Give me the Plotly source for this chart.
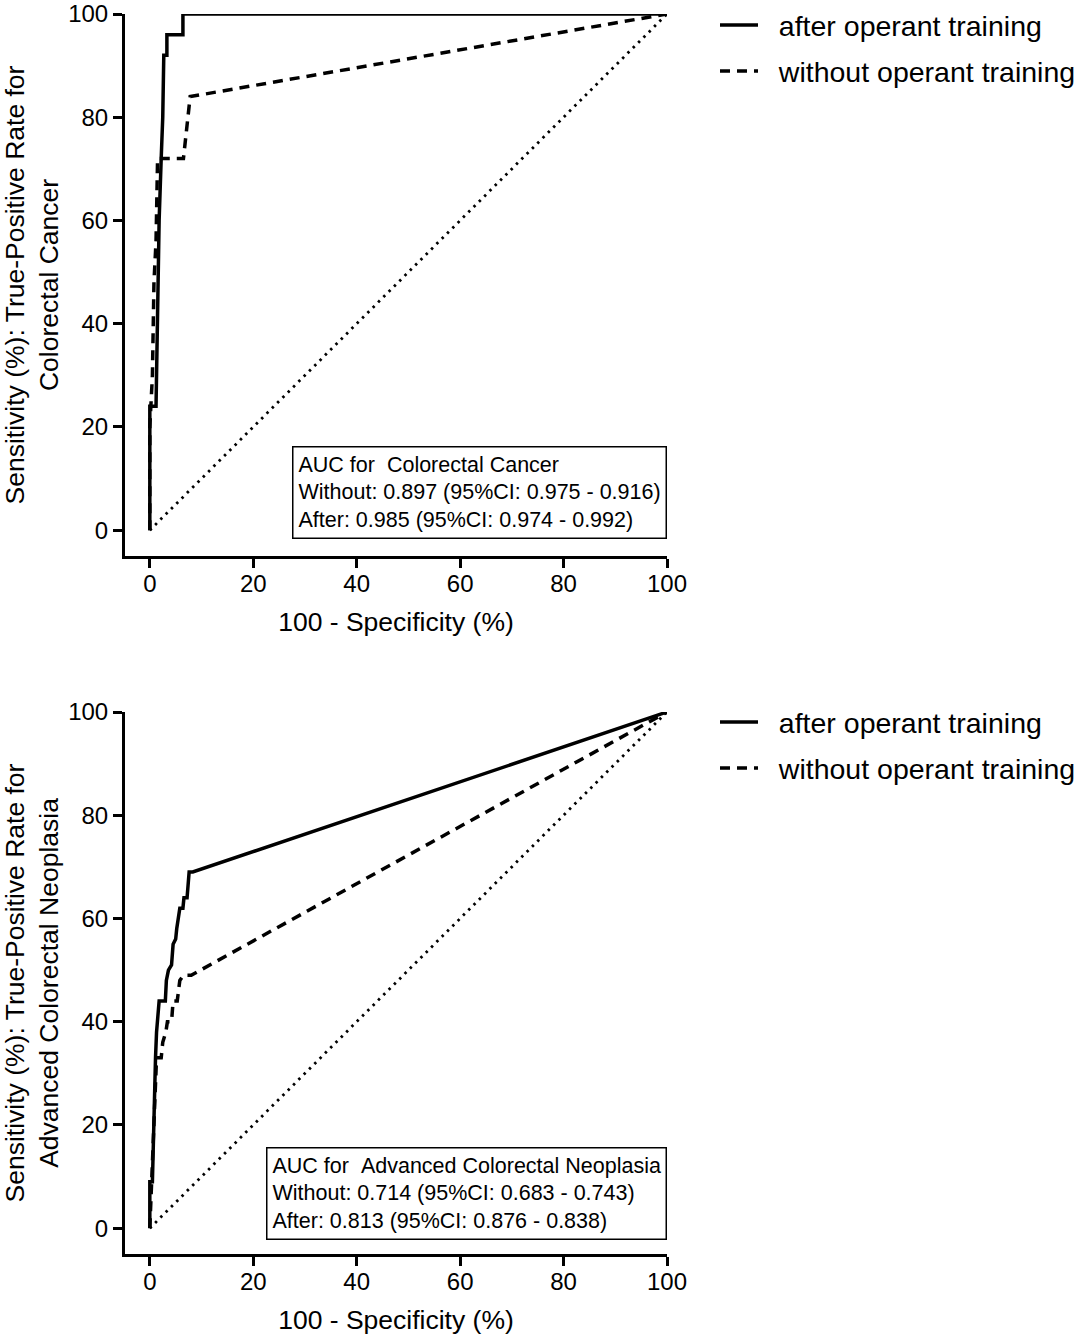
import plotly.graph_objects as go

W, H = 1083, 1339

def px_x(px):
    return px / W

def px_y(py):
    return 1 - py / H

# ---------------- data ----------------
tick_vals = [0, 20, 40, 60, 80, 100]
tick_text = ["0", "20", "40", "60", "80", "100"]

series_names = ["after operant training", "without operant training"]

# Top panel: Colorectal Cancer
crc_after_x = [0, 0, 1.2, 1.4, 1.8, 2.2, 2.5, 2.7, 3.3, 3.3, 6.4, 6.4, 100]
crc_after_y = [0, 24, 24, 40, 60, 72, 80, 92, 92, 96, 96, 100, 100]
crc_without_x = [0, 0, 0.5, 0.8, 1.2, 1.4, 1.5, 6.5, 7.3, 7.8, 100]
crc_without_y = [0, 20, 30, 48, 56, 64, 72, 72, 80, 84, 100]

# Bottom panel: Advanced Colorectal Neoplasia
acn_after_x = [0, 0, 0.5, 0.6, 0.9, 1.1, 1.3, 1.8, 3.0, 3.2, 3.6, 4.2, 4.5, 5.0, 5.2, 5.8, 6.4, 6.6, 7.2, 7.6, 8.3, 100]
acn_after_y = [0, 9, 9, 15, 25, 33, 38, 44, 44, 48, 50, 51, 55, 56, 58, 62, 62, 64, 64, 69, 69, 100]
acn_without_x = [0, 0.4, 0.8, 1.0, 1.3, 2.2, 2.5, 3.1, 3.4, 4.2, 4.5, 5.3, 5.8, 6.5, 8.0, 100]
acn_without_y = [0, 10, 20, 28, 33, 33, 36, 38, 40, 40, 44, 44, 48, 49, 49, 100]

ref_x = [0, 100]
ref_y = [0, 100]

top_box = ["AUC for\u00a0\u00a0Colorectal Cancer",
           "Without: 0.897 (95%CI: 0.975 - 0.916)",
           "After: 0.985 (95%CI: 0.974 - 0.992)"]
bot_box = ["AUC for\u00a0\u00a0Advanced Colorectal Neoplasia",
           "Without: 0.714 (95%CI: 0.683 - 0.743)",
           "After: 0.813 (95%CI: 0.876 - 0.838)"]

x_title = "100 - Specificity (%)"
top_y_title = "Sensitivity (%): True-Positive Rate for<br>Colorectal Cancer"
bot_y_title = "Sensitivity (%): True-Positive Rate for<br>Advanced Colorectal Neoplasia"

# ---------------- figure ----------------
FONT = "Liberation Sans, Arial, sans-serif"
fig = go.Figure()
PAD = "\u00a0\u00a0"

def add_panel(xa, ya, ax_x, ay_y, wx, wy, legend):
    fig.add_trace(go.Scatter(x=ax_x, y=ay_y, mode="lines", name=PAD + series_names[0],
                             line=dict(color="black", width=3.5),
                             xaxis=xa, yaxis=ya, legend=legend, legendgroup=legend + "a"))
    fig.add_trace(go.Scatter(x=wx, y=wy, mode="lines", name=PAD + series_names[1],
                             line=dict(color="black", width=3.5, dash="10px,7px"),
                             xaxis=xa, yaxis=ya, legend=legend, legendgroup=legend + "b"))
    fig.add_trace(go.Scatter(x=ref_x, y=ref_y, mode="lines", showlegend=False,
                             line=dict(color="black", width=2.8, dash="2.5px,5px"),
                             xaxis=xa, yaxis=ya, hoverinfo="skip"))

add_panel("x", "y", crc_after_x, crc_after_y, crc_without_x, crc_without_y, "legend")
add_panel("x2", "y2", acn_after_x, acn_after_y, acn_without_x, acn_without_y, "legend2")

x_dom = [px_x(125), px_x(667)]
top_dom = [px_y(556), px_y(14)]
bot_dom = [px_y(1254), px_y(712)]

axis_common = dict(showline=True, linewidth=3, linecolor="black", mirror=False,
                   ticks="outside", ticklen=9, tickwidth=3, tickcolor="black",
                   showgrid=False, zeroline=False, tickvals=tick_vals, ticktext=tick_text,
                   ticklabeloverflow="allow",
                   tickfont=dict(family=FONT, size=24, color="black"))

TITLE_FONT = dict(family=FONT, size=26.5, color="black")
LEG_FONT = dict(family=FONT, size=28.5, color="black")

fig.update_layout(
    width=W, height=H,
    margin=dict(l=0, r=0, t=0, b=0, autoexpand=False),
    paper_bgcolor="white", plot_bgcolor="white",
    font=dict(family=FONT, color="black"),
    xaxis=dict(domain=x_dom, range=[-4.8, 100], anchor="y", ticklabelstandoff=-5,
               title=dict(text=x_title, font=TITLE_FONT, standoff=17), **axis_common),
    yaxis=dict(domain=top_dom, range=[-5.0, 100], anchor="x",
               title=dict(text=top_y_title, font=TITLE_FONT, standoff=15), **axis_common),
    xaxis2=dict(domain=x_dom, range=[-4.8, 100], anchor="y2", ticklabelstandoff=-5,
                title=dict(text=x_title, font=TITLE_FONT, standoff=17), **axis_common),
    yaxis2=dict(domain=bot_dom, range=[-5.0, 100], anchor="x2",
                title=dict(text=bot_y_title, font=TITLE_FONT, standoff=15), **axis_common),
    legend=dict(x=px_x(715), y=px_y(0), xanchor="left", yanchor="top",
                font=LEG_FONT, bgcolor="rgba(0,0,0,0)", itemwidth=38,
                tracegroupgap=6, traceorder="grouped"),
    legend2=dict(x=px_x(715), y=px_y(697), xanchor="left", yanchor="top",
                 font=LEG_FONT, bgcolor="rgba(0,0,0,0)", itemwidth=38,
                 tracegroupgap=6, traceorder="grouped"),
    showlegend=True,
)

fig.add_annotation(x=100, y=-1.8, xref="x", yref="y", xanchor="right", yanchor="bottom",
                   text="<br>".join(top_box), align="left", showarrow=False,
                   font=dict(family=FONT, size=21.5, color="black"),
                   bordercolor="black", borderwidth=1.5, borderpad=5, bgcolor="white")
fig.add_annotation(x=100, y=-2.2, xref="x2", yref="y2", xanchor="right", yanchor="bottom",
                   text="<br>".join(bot_box), align="left", showarrow=False,
                   font=dict(family=FONT, size=21.5, color="black"),
                   bordercolor="black", borderwidth=1.5, borderpad=5, bgcolor="white")

# remove the default page margin so the figure sits at the window's top-left corner
fig.write_html("out.html", config={"displayModeBar": False},
               post_script="document.body.style.margin='0';")
